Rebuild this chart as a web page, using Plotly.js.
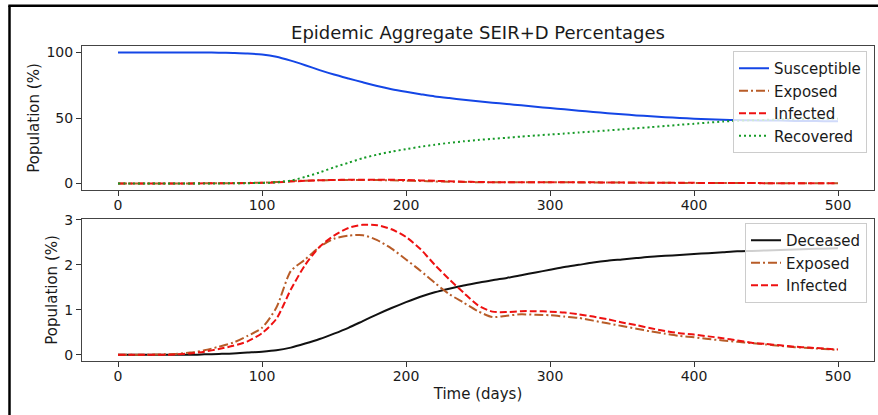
<!DOCTYPE html>
<html>
<head>
<meta charset="utf-8">
<script src="https://cdn.plot.ly/plotly-3.0.1.min.js"></script>
<style>
  html, body { margin: 0; padding: 0; background: #ffffff; }
  #chart { width: 878px; height: 415px; }
</style>
</head>
<body>
<div id="chart"></div>
<script>
// ---- data (percent of population), sampled every 10 days ----
const days = [0,10,20,30,40,50,60,70,80,90,100,110,120,130,140,150,160,170,180,190,200,
              210,220,230,240,250,260,270,280,290,300,310,320,330,340,350,360,370,380,390,400,
              410,420,430,440,450,460,470,480,490,500];

const susceptible = [100,100,100,100,100,100,100,99.9,99.6,99.2,98.5,96.8,93.8,90.3,86.6,83.2,80.2,77.3,74.5,72.0,70.0,
                     68.2,66.5,65.2,64.0,62.8,61.7,60.7,59.7,58.6,57.6,56.6,55.6,54.6,53.7,52.8,52.0,51.3,50.6,50.0,49.5,
                     49.0,48.7,48.4,48.2,48.1,48.0,47.8,47.7,47.6,47.5];

const exposed = [0,0,0,0.01,0.02,0.05,0.1,0.18,0.27,0.42,0.6,1.05,1.86,2.12,2.4,2.58,2.65,2.66,2.55,2.36,2.12,
                 1.87,1.6,1.35,1.16,0.97,0.84,0.87,0.9,0.89,0.88,0.85,0.82,0.76,0.7,0.64,0.58,0.52,0.47,0.42,0.39,
                 0.35,0.32,0.29,0.26,0.23,0.2,0.17,0.15,0.13,0.11];

const infected = [0,0,0,0,0.01,0.03,0.07,0.13,0.2,0.3,0.48,0.8,1.45,2.0,2.4,2.65,2.82,2.89,2.88,2.79,2.62,
                  2.35,2.0,1.68,1.38,1.1,0.96,0.95,0.97,0.97,0.96,0.94,0.9,0.85,0.79,0.72,0.66,0.59,0.53,0.48,0.45,
                  0.41,0.37,0.32,0.27,0.24,0.21,0.18,0.16,0.14,0.12];

const recovered = [0,0,0,0,0,0,0,0.05,0.1,0.2,0.4,0.9,2.2,5.0,8.4,12.3,15.8,19.3,22.0,24.3,26.2,
                   28.0,29.6,31.0,32.2,33.2,34.1,34.9,35.8,36.6,37.4,38.1,38.9,39.7,40.5,41.3,42.2,43.0,43.9,44.8,45.6,
                   46.5,47.3,47.9,48.3,48.6,48.9,49.1,49.2,49.3,49.4];

const deceased = [0,0,0,0,0,0,0.01,0.02,0.03,0.05,0.07,0.1,0.16,0.25,0.35,0.47,0.6,0.75,0.9,1.04,1.17,
                  1.29,1.39,1.47,1.54,1.6,1.66,1.71,1.77,1.83,1.89,1.95,2.0,2.05,2.09,2.12,2.15,2.18,2.2,2.22,2.24,
                  2.26,2.28,2.3,2.31,2.32,2.33,2.34,2.35,2.36,2.37];

const xTicks = [0,100,200,300,400,500];
const topYTicks = [0,50,100];
const bottomYTicks = [0,1,2,3];

// ---- styles ----
const FONT = "DejaVu Sans, sans-serif";
const W = 878, H = 415;
const px = v => v / W;
const py = v => 1 - v / H;

const C = {
  S: '#1446e6',
  E: '#b85c28',
  I: '#ee1111',
  R: '#159a27',
  D: '#111111'
};

const LW = 2;
const SM = 0.7;

function ln(color, dash) {
  const o = {color: color, width: LW, shape: 'spline', smoothing: SM};
  if (dash) o.dash = dash;
  return o;
}

const traces = [
  {x: days, y: susceptible, name: 'Susceptible', xaxis: 'x', yaxis: 'y', legend: 'legend',
   mode: 'lines', line: ln(C.S)},
  {x: days, y: exposed, name: 'Exposed', xaxis: 'x', yaxis: 'y', legend: 'legend',
   mode: 'lines', line: ln(C.E, '9px,3px,2px,3px')},
  {x: days, y: infected, name: 'Infected', xaxis: 'x', yaxis: 'y', legend: 'legend',
   mode: 'lines', line: ln(C.I, '7px,3px')},
  {x: days, y: recovered, name: 'Recovered', xaxis: 'x', yaxis: 'y', legend: 'legend',
   mode: 'lines', line: ln(C.R, '2px,3px')},

  {x: days, y: deceased, name: 'Deceased', xaxis: 'x2', yaxis: 'y2', legend: 'legend2',
   mode: 'lines', line: ln(C.D)},
  {x: days, y: exposed, name: 'Exposed', xaxis: 'x2', yaxis: 'y2', legend: 'legend2',
   mode: 'lines', line: ln(C.E, '9px,3px,2px,3px')},
  {x: days, y: infected, name: 'Infected', xaxis: 'x2', yaxis: 'y2', legend: 'legend2',
   mode: 'lines', line: ln(C.I, '7px,3px')}
];

const axBase = {
  showgrid: false, zeroline: false, showline: true, mirror: true,
  linecolor: '#444', linewidth: 1,
  ticks: 'outside', ticklen: 5, tickwidth: 1, tickcolor: '#333',
  tickfont: {family: FONT, size: 14, color: '#1a1a1a'},
  automargin: false, fixedrange: true
};

const layout = {
  width: W, height: H,
  margin: {l: 0, r: 0, t: 0, b: 0, pad: 0},
  paper_bgcolor: '#ffffff', plot_bgcolor: '#ffffff',
  font: {family: FONT, color: '#1a1a1a'},
  title: {
    text: 'Epidemic Aggregate SEIR+D Percentages',
    font: {family: FONT, size: 18, color: '#1a1a1a'},
    x: px(478), xanchor: 'center', xref: 'paper',
    y: py(33), yanchor: 'middle', yref: 'container'
  },
  xaxis: Object.assign({}, axBase, {
    domain: [px(82), px(874)], anchor: 'y', range: [-25, 525],
    tickvals: xTicks, ticktext: xTicks.map(String), ticklabelstandoff: -3
  }),
  yaxis: Object.assign({}, axBase, {
    domain: [py(190), py(46)], anchor: 'x', range: [-5, 105],
    tickvals: topYTicks, ticktext: topYTicks.map(String),
    title: {text: 'Population (%)', font: {family: FONT, size: 15, color: '#1a1a1a'}, standoff: 3}
  }),
  xaxis2: Object.assign({}, axBase, {
    domain: [px(82), px(874)], anchor: 'y2', range: [-25, 525],
    tickvals: xTicks, ticktext: xTicks.map(String), ticklabelstandoff: -3,
    title: {text: 'Time (days)', font: {family: FONT, size: 15, color: '#1a1a1a'}, standoff: 5}
  }),
  yaxis2: Object.assign({}, axBase, {
    domain: [py(361.3), py(218.5)], anchor: 'x2', range: [-0.144, 3.03],
    tickvals: bottomYTicks, ticktext: bottomYTicks.map(String),
    title: {text: 'Population (%)', font: {family: FONT, size: 15, color: '#1a1a1a'}, standoff: 3}
  }),
  legend: {
    x: px(867), xanchor: 'right', y: py(51), yanchor: 'top',
    bgcolor: 'rgba(255,255,255,0.8)', bordercolor: '#cccccc', borderwidth: 1,
    font: {family: FONT, size: 15, color: '#1a1a1a'}
  },
  legend2: {
    x: px(867), xanchor: 'right', y: py(223), yanchor: 'top',
    bgcolor: 'rgba(255,255,255,0.8)', bordercolor: '#cccccc', borderwidth: 1,
    font: {family: FONT, size: 15, color: '#1a1a1a'}
  },
  shapes: [
    {type: 'line', xref: 'paper', yref: 'paper', x0: px(9.5), x1: px(9.5), y0: 0, y1: py(5.7),
     line: {color: '#000', width: 2.5}},
    {type: 'line', xref: 'paper', yref: 'paper', x0: px(8.3), x1: 1, y0: py(5.7), y1: py(5.7),
     line: {color: '#000', width: 2.5}}
  ],
  showlegend: true
};

Plotly.newPlot('chart', traces, layout, {staticPlot: true, displayModeBar: false});
</script>
</body>
</html>
